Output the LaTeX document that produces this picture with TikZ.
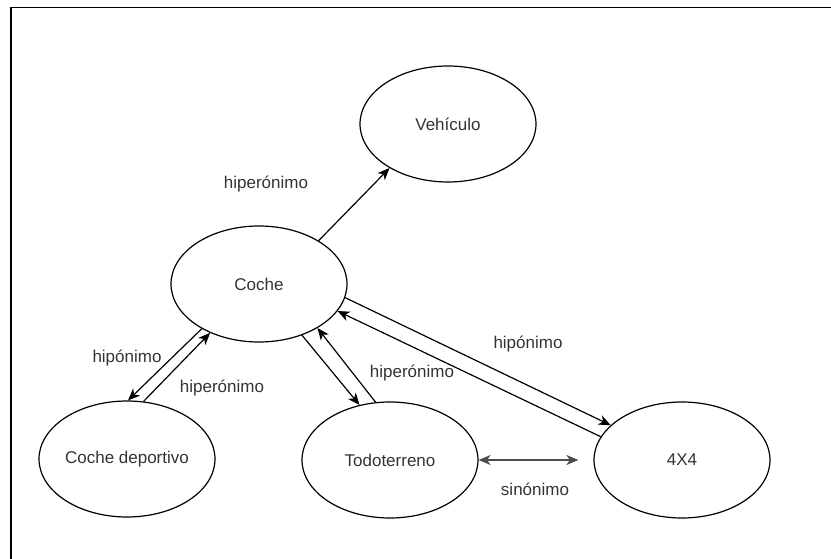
\documentclass[tikz,border=0pt]{standalone}
\usepackage{fontspec}
\setmainfont{Liberation Sans}
\usetikzlibrary{shapes.geometric,arrows.meta}
\definecolor{ink}{HTML}{333333}
\begin{document}
\begin{tikzpicture}[x=1pt,y=-1pt,
  concept/.style={ellipse,draw=black,line width=1.2pt,minimum width=176pt,minimum height=116pt,inner sep=0pt,
    font=\fontsize{17}{20}\selectfont,text=ink},
  lbl/.style={font=\fontsize{17}{20}\selectfont,text=ink,inner sep=0pt},
  tip/.style={Stealth[length=12pt,width=10pt,inset=3.5pt]},
  rel/.style={draw=black,line width=1.2pt,-{Stealth[length=12pt,width=10pt,inset=3.5pt]}},
  syn/.style={draw=black!70,line width=1.4pt,{Stealth[length=12pt,width=10pt,inset=3.5pt]}-{Stealth[length=12pt,width=10pt,inset=3.5pt]}}]
\useasboundingbox (0,0) rectangle (831,559);
% frame
\draw[line width=1.4pt] (11,559) -- (11,7.5) -- (831,7.5);

% concepts
\node[concept] (veh) at (448,124) {Vehículo};
\node[concept] (coche) at (259,284) {Coche};
\node[concept] (dep) at (127,459) {Coche deportivo};
\node[concept] (todo) at (390,460) {Todoterreno};
\node[concept] (cuatro) at (682,460) {4X4};

% relations
\draw[rel] (coche.36.7) -- (veh.217.3);
\draw[rel] (coche.218) -- (dep.89);
\draw[rel] (dep.74.6) -- (coche.225);
\draw[rel] (coche.-50.3) -- (todo.119);
\draw[rel] (todo.104.5) -- (coche.-37.3);
\draw[rel] (coche.-9.2) -- (cuatro.154.4);
\draw[rel] (cuatro.164.4) -- (coche.-19.8);
\draw[syn, shorten >=15pt] (todo.east) -- (cuatro.west);

% labels
\node[lbl] (l1) at (266,184) {hiperónimo};
\node[lbl] (l2) at (127,358) {hipónimo};
\node[lbl] (l3) at (222,388) {hiperónimo};
\node[lbl] (l4) at (412,373) {hiperónimo};
\node[lbl] (l5) at (528,344) {hipónimo};
\node[lbl] (l6) at (535,489) {sinónimo};
\end{tikzpicture}
\end{document}
